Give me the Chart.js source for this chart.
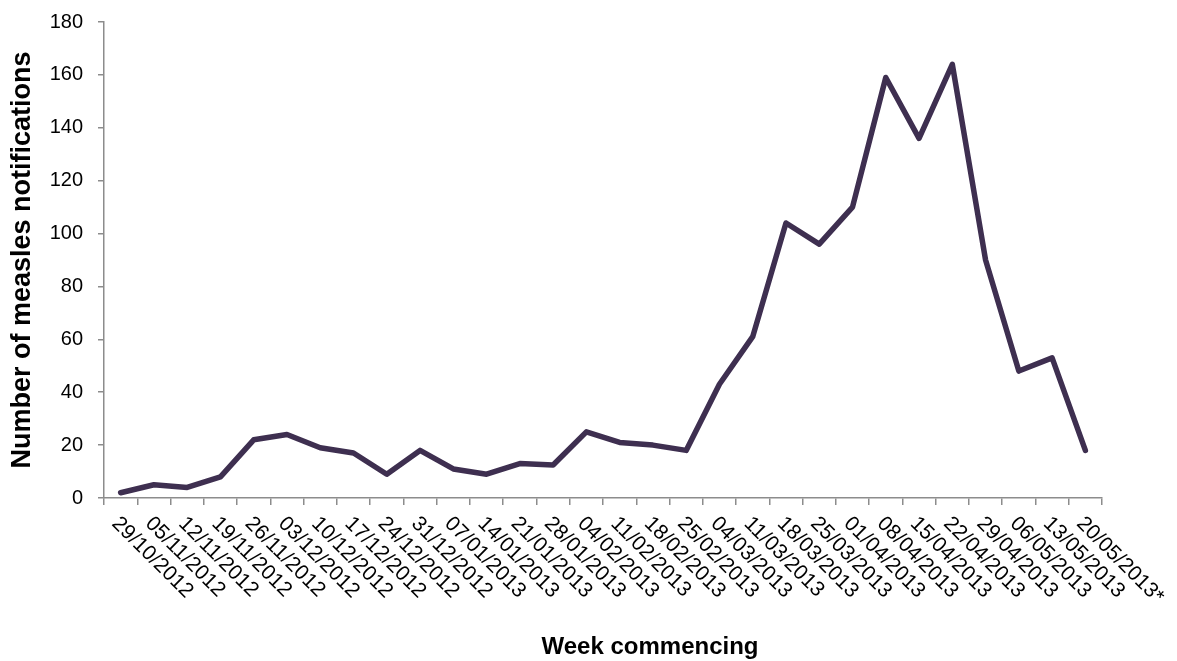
<!DOCTYPE html>
<html>
<head>
<meta charset="utf-8">
<script src="https://cdn.jsdelivr.net/npm/chart.js@4.4.0/dist/chart.umd.min.js"></script>
<style>
  html, body { margin: 0; padding: 0; background: #fff; }
  #wrap { width: 1177px; height: 661px; }
</style>
</head>
<body>
<div id="wrap"><canvas id="lineChart"></canvas></div>
<script>
(function () {
    const weeks = ["29/10/2012", "05/11/2012", "12/11/2012", "19/11/2012", "26/11/2012", "03/12/2012",
        "10/12/2012", "17/12/2012", "24/12/2012", "31/12/2012", "07/01/2013", "14/01/2013",
        "21/01/2013", "28/01/2013", "04/02/2013", "11/02/2013", "18/02/2013", "25/02/2013",
        "04/03/2013", "11/03/2013", "18/03/2013", "25/03/2013", "01/04/2013", "08/04/2013",
        "15/04/2013", "22/04/2013", "29/04/2013", "06/05/2013", "13/05/2013", "20/05/2013*"];
    const notifications = [2, 5, 4, 8, 22, 24, 19, 17, 9, 18, 11, 9, 13, 12.5, 25, 21, 20, 18,
        43, 61, 104, 96, 110, 159, 136, 164, 90, 48, 53, 18];
    const yTicks = [0, 20, 40, 60, 80, 100, 120, 140, 160, 180];

    const axisGrey = '#8c8c8c';
    const fontName = '"Liberation Sans", Arial, sans-serif';

    // x labels run down to the right, which the built-in ticks can't do
    const slantLabels = {
        id: 'slantLabels',
        afterDraw(chart) {
            const ctx = chart.ctx;
            const xs = chart.scales.x;
            const area = chart.chartArea;
            ctx.save();
            ctx.fillStyle = '#000';
            ctx.font = '21px ' + fontName;
            ctx.textAlign = 'left';
            ctx.textBaseline = 'top';
            weeks.forEach(function (w, i) {
                const px = xs.getPixelForTick(i);
                ctx.save();
                ctx.translate(px + 2, area.bottom + 15);
                ctx.rotate(45 * Math.PI / 180);
                ctx.fillText(w, 0, 0);
                ctx.restore();
            });
            ctx.font = 'bold 24px ' + fontName;
            ctx.textAlign = 'center';
            ctx.textBaseline = 'alphabetic';
            ctx.fillText('Week commencing', 650, 654);
            ctx.restore();
        }
    };

    new Chart(document.getElementById('lineChart'), {
        type: 'line',
        data: {
            labels: weeks,
            datasets: [{
                data: notifications,
                borderColor: '#3e2f50',
                borderWidth: 5.5,
                borderJoinStyle: 'round',
                borderCapStyle: 'round',
                pointRadius: 0,
                tension: 0,
                fill: false
            }]
        },
        options: {
            responsive: true,
            maintainAspectRatio: false,
            animation: false,
            layout: { padding: { top: 22, right: 75, left: 0, bottom: 0 } },
            scales: {
                x: {
                    offset: true,
                    grid: {
                        offset: true,
                        drawOnChartArea: false,
                        color: axisGrey,
                        tickLength: 7,
                        lineWidth: 1.5
                    },
                    border: { color: axisGrey, width: 1.5 },
                    ticks: { display: false },
                    afterFit(scale) { scale.height = 163; }
                },
                y: {
                    min: 0,
                    max: 180,
                    afterBuildTicks(scale) { scale.ticks = yTicks.map(v => ({ value: v })); },
                    grid: {
                        drawOnChartArea: false,
                        color: axisGrey,
                        tickLength: 6,
                        lineWidth: 1.5
                    },
                    border: { color: axisGrey, width: 1.5 },
                    ticks: {
                        color: '#000',
                        padding: 15,
                        font: { family: fontName, size: 20 }
                    },
                    title: {
                        display: true,
                        text: 'Number of measles notifications',
                        color: '#000',
                        padding: { top: 6, bottom: 0 },
                        font: { family: fontName, size: 27, weight: 'bold' }
                    },
                    afterFit(scale) {
                        scale.width = 104;
                        scale.paddingTop = 0;
                        scale.paddingBottom = 0;
                    }
                }
            },
            plugins: {
                legend: { display: false },
                tooltip: { enabled: false }
            }
        },
        plugins: [slantLabels]
    });
})();
</script>
</body>
</html>
